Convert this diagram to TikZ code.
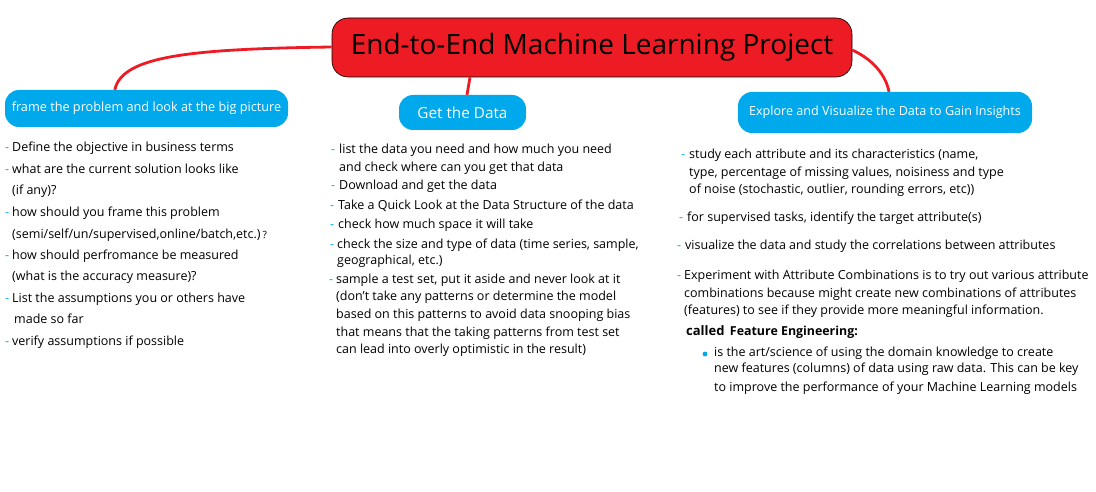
\documentclass[tikz,border=0pt]{standalone}
\usepackage{fontspec}
\setmainfont{Open Sans}
\usetikzlibrary{calc}
\definecolor{mblue}{HTML}{00A8EC}
\definecolor{mred}{HTML}{ED1C24}
\newcommand{\bodyfont}{\fontsize{12.5}{14}\selectfont}
\begin{document}
\begin{tikzpicture}[x=1pt,y=-1pt,
  txt/.style={anchor=base west, inner sep=0pt, font=\bodyfont, text=black, yshift=-1.5pt},
  dsh/.style={anchor=base west, inner sep=0pt, font=\bodyfont, text=mblue, yshift=-1.5pt},
  topic/.style={draw=none, fill=mblue, rounded corners=14pt, text=white, inner sep=0pt, anchor=center},
  link/.style={draw=mred, line width=2.8pt}
]
\useasboundingbox (0,0) rectangle (1096,492);

% root
\node[draw=black, line width=0.6pt, fill=mred, rounded corners=16pt, minimum width=520pt, minimum height=59pt, inner sep=0pt,
  font=\fontsize{28}{32}\selectfont] (root) at (592,47.5) {End-to-End Machine Learning Project};

% topics
\node[topic, minimum width=283pt, minimum height=37pt, font=\fontsize{12.7}{15}\selectfont] (frame) at (146.5,108.5) {frame the problem and look at the big picture};
\node[topic, minimum width=127pt, minimum height=35pt, font=\fontsize{15.3}{18}\selectfont] (get) at (462.5,112.5) {Get the Data};
\node[topic, minimum width=294pt, minimum height=41pt, font=\fontsize{12.6}{15}\selectfont] (explore) at (885,112.5) {Explore and Visualize the Data to Gain Insights};

% connectors
\coordinate (fin) at ($(frame.north west)+(110,0)$);
\draw[link] (root.west |- 0,47) .. controls (190,49) and (122,56) .. (fin);
\draw[link] (root.south -| 470,0) -- (get.north -| 467,0);
\draw[link] (root.east |- 0,50) .. controls (874,60) and (886,76) .. (explore.north -| 889,0);

% left column
\node[dsh] (ld1) at (5,150) {-};
\node[txt] (l1) at (12,150) {Define the objective in business terms};
\node[dsh] (ld2) at (5,172) {-};
\node[txt] (l2) at (12,172) {what are the current solution looks like};
\node[txt] (l2b) at (12,193) {(if any)?};
\node[dsh] (ld3) at (5,215) {-};
\node[txt] (l3) at (12,215) {how should you frame this problem};
\node[txt] (l3b) at (12,237) {(semi/self/un/supervised,online/batch,etc.)\,{\fontsize{10}{11}\selectfont ?}};
\node[dsh] (ld4) at (5,258) {-};
\node[txt] (l4) at (12,258) {how should perfromance be measured};
\node[txt] (l4b) at (12,279) {(what is the accuracy measure)?};
\node[dsh] (ld5) at (5,301) {-};
\node[txt] (l5) at (12,301) {List the assumptions you or others have};
\node[txt] (l5b) at (14,322) {made so far};
\node[dsh] (ld6) at (5,344) {-};
\node[txt] (l6) at (12,344) {verify assumptions if possible};

% middle column
\node[dsh] (md1) at (331,152) {-};
\node[txt] (m1) at (339,152) {list the data you need and how much you need};
\node[txt] (m1b) at (339,170) {and check where can you get that data};
\node[dsh] (md2) at (331,188) {-};
\node[txt] (m2) at (339,188) {Download and get the data};
\node[dsh] (md3) at (330,208) {-};
\node[txt] (m3) at (338,208) {Take a Quick Look at the Data Structure of the data};
\node[dsh] (md4) at (330,227) {-};
\node[txt] (m4) at (338,227) {check how much space it will take};
\node[dsh] (md5) at (330,247) {-};
\node[txt] (m5) at (337,247) {check the size and type of data (time series, sample,};
\node[txt] (m5b) at (337,263) {geographical, etc.)};
\node[dsh] (md6) at (329,282) {-};
\node[txt] (m6) at (336,282) {sample a test set, put it aside and never look at it};
\node[txt] (m6b) at (336,299) {(don't take any patterns or determine the model};
\node[txt] (m6c) at (336,317) {based on this patterns to avoid data snooping bias};
\node[txt] (m6d) at (336,335) {that means that the taking patterns from test set};
\node[txt] (m6e) at (336,352) {can lead into overly optimistic in the result)};

% right column
\node[dsh] (rd1) at (681,157) {-};
\node[txt] (r1) at (689,157) {study each attribute and its characteristics (name,};
\node[txt] (r1b) at (689,175) {type, percentage of missing values, noisiness and type};
\node[txt] (r1c) at (689,192) {of noise (stochastic, outlier, rounding errors, etc))};
\node[dsh] (rd2) at (679,220) {-};
\node[txt] (r2) at (687,220) {for supervised tasks, identify the target attribute(s)};
\node[dsh] (rd3) at (677,248) {-};
\node[txt] (r3) at (685,248) {visualize the data and study the correlations between attributes};
\node[dsh] (rd4) at (677,278) {-};
\node[txt] (r4) at (684,278) {Experiment with Attribute Combinations is to try out various attribute};
\node[txt] (r4b) at (684,296) {combinations because might create new combinations of attributes};
\node[txt] (r4c) at (684,313) {(features) to see if they provide more meaningful information.};
\node[txt, font=\fontsize{13}{15}\selectfont\bfseries] (called) at (686,334) {called};
\node[txt, font=\fontsize{12.4}{14}\selectfont\bfseries, anchor=base west, yshift=1.5pt] (fe) at ($(called.base east)+(5,0)$) {Feature Engineering:};
\fill[mblue] (705,354) circle (2.4pt);
\node[txt] (b1) at (714,355) {is the art/science of using the domain knowledge to create};
\node[txt] (b1b) at (714,371) {new features (columns) of data using raw data. This can be key};
\node[txt] (b1c) at (714,390) {to improve the performance of your Machine Learning models};
\end{tikzpicture}
\end{document}
